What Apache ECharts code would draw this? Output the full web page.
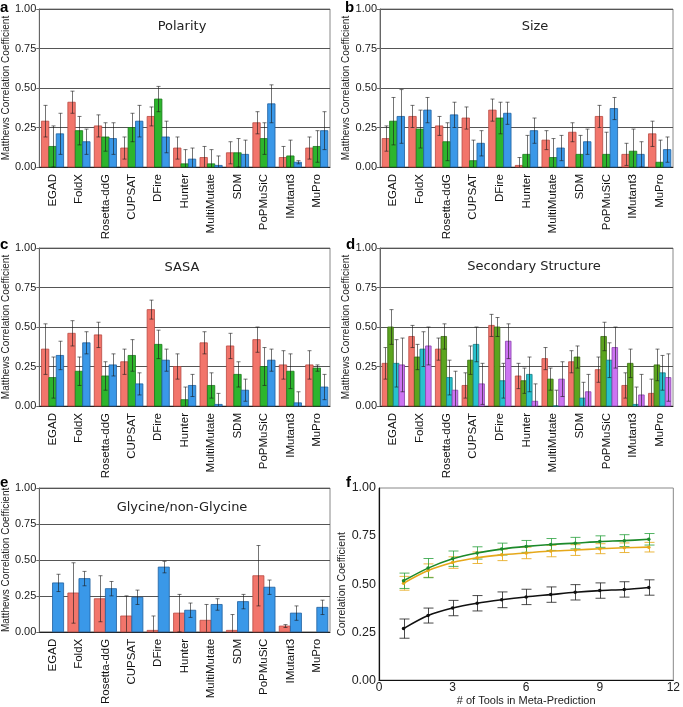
<!DOCTYPE html>
<html>
  <head>
    <meta charset="utf-8" />
    <title>Predictor MCC panels</title>
    <style type="text/css">
      html,
      body {
        margin: 0;
        padding: 0;
        background: #fff;
      }
    </style>
    <script src="https://cdn.jsdelivr.net/npm/echarts@6/dist/echarts.min.js"></script>
  </head>
  <body>
    <div id="chart" style="width: 683px; height: 707px"></div>
    <script type="text/javascript">
      // tools on the x axis of panels a-e
      var tools = ["EGAD", "FoldX", "Rosetta-ddG", "CUPSAT", "DFire", "Hunter",
        "MultiMutate", "SDM", "PoPMuSiC", "IMutant3", "MuPro"];
      var yTicks = [0, 0.25, 0.5, 0.75, 1];
      var fxTicks = [0, 3, 6, 9, 12];

      // a: Polarity
      var polarityRed = [0.29, 0.41, 0.26, 0.12, 0.32, 0.12, 0.06, 0.09, 0.28, 0.06, 0.12];
      var polarityRedErr = [0.10, 0.07, 0.07, 0.07, 0.06, 0.07, 0.07, 0.07, 0.07, 0.07, 0.07];
      var polarityGreen = [0.13, 0.23, 0.19, 0.25, 0.43, 0.02, 0.02, 0.09, 0.18, 0.07, 0.13];
      var polarityGreenErr = [0.13, 0.09, 0.09, 0.09, 0.08, 0.09, 0.09, 0.09, 0.10, 0.10, 0.10];
      var polarityBlue = [0.21, 0.16, 0.18, 0.29, 0.19, 0.05, 0.01, 0.08, 0.40, 0.03, 0.23];
      var polarityBlueErr = [0.13, 0.08, 0.10, 0.10, 0.10, 0.07, 0.06, 0.09, 0.12, 0.01, 0.12];

      // b: Size
      var sizeRed = [0.18, 0.32, 0.26, 0.31, 0.36, 0.01, 0.17, 0.22, 0.32, 0.08, 0.21];
      var sizeRedErr = [0.08, 0.07, 0.06, 0.07, 0.07, 0.05, 0.06, 0.06, 0.07, 0.07, 0.08];
      var sizeGreen = [0.29, 0.24, 0.16, 0.04, 0.31, 0.08, 0.06, 0.08, 0.08, 0.10, 0.03];
      var sizeGreenErr = [0.15, 0.12, 0.12, 0.13, 0.10, 0.12, 0.12, 0.12, 0.14, 0.14, 0.14];
      var sizeBlue = [0.32, 0.36, 0.33, 0.15, 0.34, 0.23, 0.12, 0.16, 0.37, 0.08, 0.11];
      var sizeBlueErr = [0.17, 0.08, 0.08, 0.08, 0.07, 0.08, 0.08, 0.08, 0.07, 0.08, 0.08];

      // c: SASA
      var sasaRed = [0.36, 0.46, 0.45, 0.28, 0.61, 0.25, 0.40, 0.38, 0.42, 0.26, 0.26];
      var sasaRedErr = [0.16, 0.08, 0.08, 0.08, 0.06, 0.08, 0.07, 0.08, 0.08, 0.09, 0.09];
      var sasaGreen = [0.18, 0.22, 0.19, 0.32, 0.39, 0.04, 0.13, 0.20, 0.25, 0.22, 0.24];
      var sasaGreenErr = [0.13, 0.09, 0.09, 0.10, 0.09, 0.08, 0.08, 0.08, 0.12, 0.11, 0.02];
      var sasaBlue = [0.32, 0.40, 0.26, 0.14, 0.29, 0.13, 0.01, 0.10, 0.29, 0.02, 0.12];
      var sasaBlueErr = [0.09, 0.07, 0.07, 0.07, 0.07, 0.07, 0.07, 0.07, 0.07, 0.07, 0.08];

      // d: Secondary Structure
      var ssRed = [0.27, 0.44, 0.36, 0.13, 0.51, 0.19, 0.30, 0.28, 0.23, 0.13, 0.08];
      var ssRedErr = [0.10, 0.07, 0.07, 0.08, 0.07, 0.08, 0.07, 0.07, 0.08, 0.08, 0.09];
      var ssGreen = [0.50, 0.31, 0.44, 0.29, 0.50, 0.16, 0.17, 0.31, 0.44, 0.27, 0.26];
      var ssGreenErr = [0.11, 0.08, 0.08, 0.09, 0.06, 0.08, 0.07, 0.07, 0.09, 0.09, 0.10];
      var ssTeal = [0.27, 0.36, 0.18, 0.39, 0.16, 0.20, 0.00, 0.05, 0.29, 0.01, 0.21];
      var ssTealErr = [0.15, 0.11, 0.11, 0.11, 0.11, 0.11, 0.10, 0.10, 0.11, 0.11, 0.11];
      var ssPurple = [0.26, 0.38, 0.10, 0.14, 0.41, 0.03, 0.17, 0.09, 0.37, 0.07, 0.18];
      var ssPurpleErr = [0.17, 0.12, 0.12, 0.13, 0.11, 0.11, 0.11, 0.11, 0.13, 0.13, 0.15];

      // e: Glycine/non-Glycine (null = no bar)
      var glyRed = [null, 0.27, 0.23, 0.11, 0.01, 0.13, 0.08, 0.01, 0.39, 0.04, null];
      var glyRedErr = [0, 0.21, 0.16, 0.14, 0.10, 0.13, 0.11, 0.11, 0.21, 0.01, 0];
      var glyBlue = [0.34, 0.37, 0.30, 0.24, 0.45, 0.15, 0.19, 0.21, 0.31, 0.13, 0.17];
      var glyBlueErr = [0.06, 0.05, 0.05, 0.05, 0.04, 0.05, 0.04, 0.05, 0.05, 0.05, 0.05];

      // f: meta-prediction
      var nTools = [1, 2, 3, 4, 5, 6, 7, 8, 9, 10, 11];
      var metaGreen = [0.517, 0.583, 0.632, 0.662, 0.682, 0.696, 0.706, 0.713, 0.721, 0.726, 0.733];
      var metaGreenErr = [0.040, 0.050, 0.040, 0.032, 0.031, 0.031, 0.031, 0.030, 0.030, 0.031, 0.030];
      var metaOrange = [0.504, 0.570, 0.612, 0.637, 0.652, 0.662, 0.672, 0.677, 0.684, 0.689, 0.692];
      var metaOrangeErr = [0.036, 0.035, 0.030, 0.030, 0.030, 0.030, 0.030, 0.028, 0.026, 0.025, 0.025];
      var metaBlack = [0.268, 0.336, 0.375, 0.400, 0.418, 0.433, 0.445, 0.457, 0.466, 0.472, 0.482];
      var metaBlackErr = [0.050, 0.039, 0.040, 0.040, 0.041, 0.040, 0.040, 0.040, 0.040, 0.040, 0.040];

      var RED = ["#f2756b", "#b94a42"];
      var GREEN = ["#2db52d", "#1a7a1c"];
      var BLUE = ["#3a98e8", "#1f5f9e"];
      var OLIVE = ["#5ca51f", "#3a6e12"];
      var TEAL = ["#27c1cc", "#167b84"];
      var PURPLE = ["#cc74f2", "#8a42ad"];
      var ERR = "rgba(25,25,25,0.6)";
      var NARROW = "'Liberation Sans Narrow', 'Liberation Sans', Arial, sans-serif";
      var SANS = "'Liberation Sans', Arial, sans-serif";

      var chart = echarts.init(document.getElementById("chart"), null, { renderer: "canvas" });

      var panels = [
        { letter: "a", title: "Polarity", lx: 0, ly: 8, tx: 182, ty: 27,
          grid: { left: 33, top: 9, width: 297, height: 158 },
          bars: [[polarityRed, polarityRedErr, RED], [polarityGreen, polarityGreenErr, GREEN], [polarityBlue, polarityBlueErr, BLUE]] },
        { letter: "b", title: "Size", lx: 345, ly: 8, tx: 535, ty: 27,
          grid: { left: 380, top: 9, width: 293, height: 158 },
          bars: [[sizeRed, sizeRedErr, RED], [sizeGreen, sizeGreenErr, GREEN], [sizeBlue, sizeBlueErr, BLUE]] },
        { letter: "c", title: "SASA", lx: 0, ly: 245, tx: 182, ty: 268,
          grid: { left: 33, top: 248, width: 297, height: 158 },
          bars: [[sasaRed, sasaRedErr, RED], [sasaGreen, sasaGreenErr, GREEN], [sasaBlue, sasaBlueErr, BLUE]] },
        { letter: "d", title: "Secondary Structure", lx: 346, ly: 245, tx: 534, ty: 267,
          grid: { left: 380, top: 248, width: 293, height: 158 },
          bars: [[ssRed, ssRedErr, RED], [ssGreen, ssGreenErr, OLIVE], [ssTeal, ssTealErr, TEAL], [ssPurple, ssPurpleErr, PURPLE]] },
        { letter: "e", title: "Glycine/non-Glycine", lx: 0, ly: 483, tx: 182, ty: 508,
          grid: { left: 33, top: 488, width: 297, height: 159 },
          bars: [[glyRed, glyRedErr, RED], [glyBlue, glyBlueErr, BLUE]] },
      ];

      var grids = [], xAxes = [], yAxes = [], series = [], graphics = [];

      function yAxisFor(i, name, gap) {
        return {
          type: "value", gridIndex: i,
          min: yTicks[0], max: yTicks[yTicks.length - 1], interval: yTicks[1] - yTicks[0],
          name: name, nameLocation: "middle", nameGap: gap, nameRotate: 90,
          nameTextStyle: { fontSize: 10, color: "#222", fontFamily: SANS },
          axisLine: { show: true, lineStyle: { color: "#666" } },
          axisTick: { show: true, length: 3, lineStyle: { color: "#666" } },
          axisLabel: { fontSize: 11, color: "#222", fontFamily: SANS, margin: 3,
            formatter: function (v) { return v.toFixed(2); } },
          splitLine: { show: true, lineStyle: { color: "#555", width: 1 } },
        };
      }

      function barGroup(i, values, errs, color, slot, nSlots) {
        var data = [];
        values.forEach(function (v, k) {
          if (v !== null) data.push([k, v, errs[k]]);
        });
        return {
          type: "custom", xAxisIndex: i, yAxisIndex: i, data: data, z: 3,
          renderItem: function (params, api) {
            var k = api.value(0), v = api.value(1), e = api.value(2);
            var base = api.coord([k, 0]);
            var band = api.size([1, 0])[0];
            var groupW = band * 0.84;
            var w = groupW / nSlots;
            var x0 = base[0] - groupW / 2 + slot * w;
            var top = api.coord([k, v])[1];
            var xm = Math.round(x0 + w / 2) + 0.5;
            var hi = api.coord([k, v + e])[1];
            var lo = api.coord([k, Math.max(0, v - e)])[1];
            var kids = [
              { type: "rect", shape: { x: x0, y: top, width: w, height: base[1] - top },
                style: { fill: color[0], stroke: color[1], lineWidth: 0.8 } },
              { type: "line", shape: { x1: xm, y1: hi, x2: xm, y2: lo },
                style: { stroke: ERR, lineWidth: 1 } },
              { type: "line", shape: { x1: xm - 2, y1: hi, x2: xm + 2, y2: hi },
                style: { stroke: ERR, lineWidth: 1 } },
            ];
            if (v - e >= 0) {
              kids.push({ type: "line", shape: { x1: xm - 2, y1: lo, x2: xm + 2, y2: lo },
                style: { stroke: ERR, lineWidth: 1 } });
            }
            return { type: "group", children: kids };
          },
        };
      }

      panels.forEach(function (p, i) {
        grids.push(Object.assign({ show: true, borderColor: "#888", borderWidth: 1 }, p.grid));
        xAxes.push({
          type: "category", gridIndex: i, data: tools,
          axisLine: { lineStyle: { color: "#222" } },
          axisTick: { alignWithLabel: true, length: 3, lineStyle: { color: "#222" } },
          axisLabel: { rotate: 90, fontSize: 11.5, color: "#111", fontFamily: NARROW, margin: 7, interval: 0 },
        });
        yAxes.push(yAxisFor(i, "Matthews Correlation Coefficient", 24));
        p.bars.forEach(function (b, s) {
          series.push(barGroup(i, b[0], b[1], b[2], s, p.bars.length));
        });
        graphics.push({ type: "text", x: p.lx, y: p.ly,
          style: { text: p.letter, font: "bold 15px " + SANS, fill: "#000", verticalAlign: "middle" } });
        graphics.push({ type: "text", x: p.tx, y: p.ty,
          style: { text: p.title, font: "13px 'DejaVu Sans', sans-serif", fill: "#222",
            align: "center", verticalAlign: "middle" } });
      });

      // panel f
      var fi = panels.length;
      grids.push({ show: true, borderColor: "#888", borderWidth: 1, left: 379, top: 488, width: 298, height: 199 });
      xAxes.push({
        type: "value", gridIndex: fi,
        min: fxTicks[0], max: fxTicks[fxTicks.length - 1], interval: fxTicks[1] - fxTicks[0],
        name: "# of Tools in Meta-Prediction", nameLocation: "middle", nameGap: 12,
        nameTextStyle: { fontSize: 11, color: "#222", fontFamily: NARROW },
        axisLine: { lineStyle: { color: "#111", width: 1.2 } },
        axisTick: { show: false },
        axisLabel: { fontSize: 12, color: "#222", fontFamily: NARROW, margin: 2 },
        splitLine: { show: false },
      });
      var fy = yAxisFor(fi, "Correlation Coefficient", 30);
      fy.splitLine = { show: false };
      fy.axisLine = { show: true, lineStyle: { color: "#111", width: 1.2 } };
      fy.axisTick = { show: false };
      fy.axisLabel.fontSize = 12.5;
      fy.axisLabel.fontFamily = NARROW;
      fy.nameTextStyle.fontFamily = NARROW;
      fy.nameTextStyle.fontSize = 10.5;
      yAxes.push(fy);
      graphics.push({ type: "text", x: 346, y: 483,
        style: { text: "f", font: "bold 15px " + SANS, fill: "#000", verticalAlign: "middle" } });

      function metaLine(vals, errs, lineColor, errColor) {
        var pts = nTools.map(function (x, k) { return [x, vals[k], errs[k]]; });
        series.push({
          type: "custom", xAxisIndex: fi, yAxisIndex: fi, data: pts, z: 2,
          renderItem: function (params, api) {
            var x = api.value(0), v = api.value(1), e = api.value(2);
            var hi = api.coord([x, v + e]), lo = api.coord([x, v - e]);
            var xm = Math.round(hi[0]) + 0.5;
            var st = { stroke: errColor, lineWidth: 1 };
            return { type: "group", children: [
              { type: "line", shape: { x1: xm, y1: hi[1], x2: xm, y2: lo[1] }, style: st },
              { type: "line", shape: { x1: xm - 5, y1: hi[1], x2: xm + 5, y2: hi[1] }, style: st },
              { type: "line", shape: { x1: xm - 5, y1: lo[1], x2: xm + 5, y2: lo[1] }, style: st },
            ] };
          },
        });
        series.push({
          type: "line", xAxisIndex: fi, yAxisIndex: fi, z: 4,
          data: nTools.map(function (x, k) { return [x, vals[k]]; }),
          smooth: 0.3, symbol: "circle", symbolSize: 3.5,
          lineStyle: { color: lineColor, width: 1.6 }, itemStyle: { color: lineColor },
        });
      }
      metaLine(metaOrange, metaOrangeErr, "#e6a81a", "rgba(232,170,30,0.85)");
      metaLine(metaGreen, metaGreenErr, "#1c8a2a", "rgba(40,160,60,0.8)");
      metaLine(metaBlack, metaBlackErr, "#111", "rgba(30,30,30,0.8)");

      chart.setOption({
        animation: false,
        backgroundColor: "#fff",
        grid: grids,
        xAxis: xAxes,
        yAxis: yAxes,
        series: series,
        graphic: graphics,
      });
    </script>
  </body>
</html>
